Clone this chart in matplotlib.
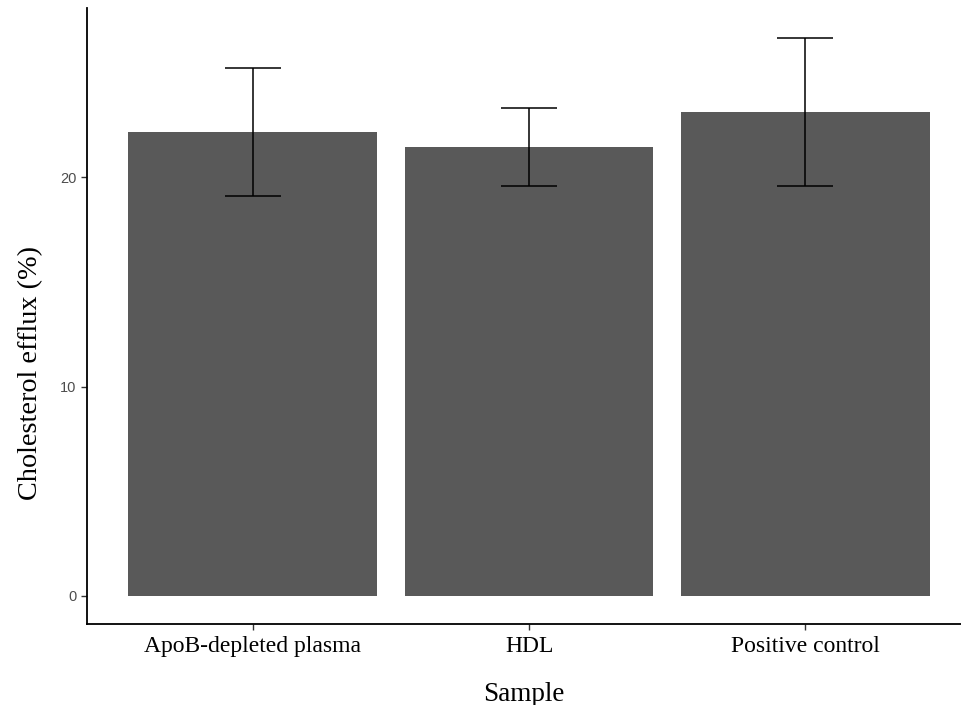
import matplotlib.pyplot as plt

# 데이터
samples = ['ApoB-depleted plasma', 'HDL', 'Positive control']
efflux = [22.15, 21.45, 23.13]
efflux_sd = [3.06, 1.87, 3.52]
yticks = [0, 10, 20]

fig = plt.figure(figsize=(9.61, 7.05), dpi=100)
ax = fig.add_axes([0.0905, 0.1149, 0.9095, 0.8738])

xpos = range(1, len(samples) + 1)
ax.bar(xpos, efflux, width=0.9, color='#595959', zorder=2)
ax.errorbar(xpos, efflux, yerr=efflux_sd, fmt='none', ecolor='black',
            elinewidth=1.1, capsize=20, capthick=1.1, zorder=3)

ax.set_xlim(0.4, 3.563)
ax.set_ylim(-1.34, 28.1)

ax.set_xticks(list(xpos))
ax.set_xticklabels(samples, fontfamily='Liberation Serif', fontsize=17, color='black')
ax.set_yticks(yticks)
ax.set_yticklabels([str(t) for t in yticks], fontfamily='Liberation Sans', fontsize=10.5, color='#4d4d4d')

for side in ['top', 'right']:
    ax.spines[side].set_visible(False)
for side in ['left', 'bottom']:
    ax.spines[side].set_linewidth(1.3)
    ax.spines[side].set_color('black')
ax.tick_params(axis='both', length=4.5, width=1.0, color='#333333')
ax.tick_params(axis='x', pad=4)
ax.tick_params(axis='y', pad=3)

ax.set_xlabel('Sample', fontfamily='Liberation Serif', fontsize=19.5, labelpad=18)
ax.set_ylabel('Cholesterol efflux (%)', fontfamily='Liberation Serif', fontsize=20.3)
# y축 제목은 패널 가운데보다 조금 아래에 있음
ax.yaxis.set_label_coords(-0.0503, 0.4075)

plt.savefig('out.png', dpi=100)
